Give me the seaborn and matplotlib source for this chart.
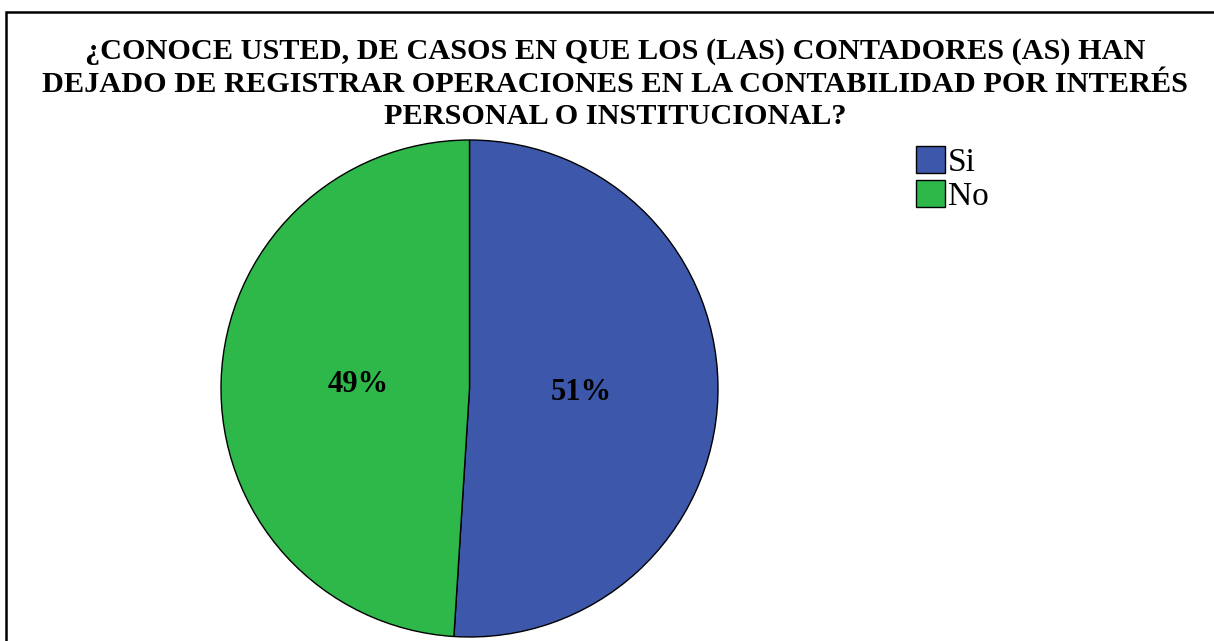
import matplotlib
matplotlib.use("Agg")
import matplotlib.pyplot as plt
import matplotlib.patches as mpatches
import seaborn as sns

# datos de la encuesta
categorias = ["Si", "No"]
porcentajes = [51, 49]
colores = ["#3D58AA", "#2EB84A"]
titulo = ("¿CONOCE USTED, DE CASOS EN QUE LOS (LAS) CONTADORES (AS) HAN\n"
          "DEJADO DE REGISTRAR OPERACIONES EN LA CONTABILIDAD POR INTERÉS\n"
          "PERSONAL O INSTITUCIONAL?")

sns.set_theme(style="white")
plt.rcParams['font.family'] = ['Liberation Serif', 'DejaVu Serif']
plt.rcParams['text.color'] = 'black'

fig = plt.figure(figsize=(12.14, 6.41), dpi=100)
ax = fig.add_axes([221/1214, 4/641, 497/1214, 497/641])

wedges, textos, autotextos = ax.pie(
    porcentajes, colors=colores, startangle=90, counterclock=False,
    autopct=lambda p: f"{p:.0f}%", pctdistance=0.45,
    wedgeprops=dict(edgecolor="black", linewidth=1.0),
    textprops=dict(fontsize=22, fontweight="bold", color="black"))
ax.set_xlim(-1, 1)
ax.set_ylim(-1, 1)
ax.set_aspect("equal")
ax.axis("off")

fig.text(615/1214, 1 - 84/641, titulo, ha="center", va="center", color="black",
         fontsize=21.8, fontweight="bold", linespacing=1.25)

handles = [mpatches.Patch(facecolor=c, edgecolor="black", label=l)
           for c, l in zip(colores, categorias)]
leg = fig.legend(handles=handles, loc="upper left", bbox_to_anchor=(916/1214, 1 - 146/641),
                 frameon=False, fontsize=24, handlelength=0.88, handleheight=0.88,
                 handletextpad=0.08, labelspacing=0.05, borderaxespad=0, borderpad=0)
for t in leg.get_texts():
    t.set_color("black")

# marco exterior
fig.add_artist(mpatches.Rectangle((6/1214, -0.1), 1.2, 1 - 12/641 + 0.1,
                                  transform=fig.transFigure, fill=False,
                                  edgecolor="black", linewidth=1.8, clip_on=False))

fig.savefig("out.png", dpi=100)
